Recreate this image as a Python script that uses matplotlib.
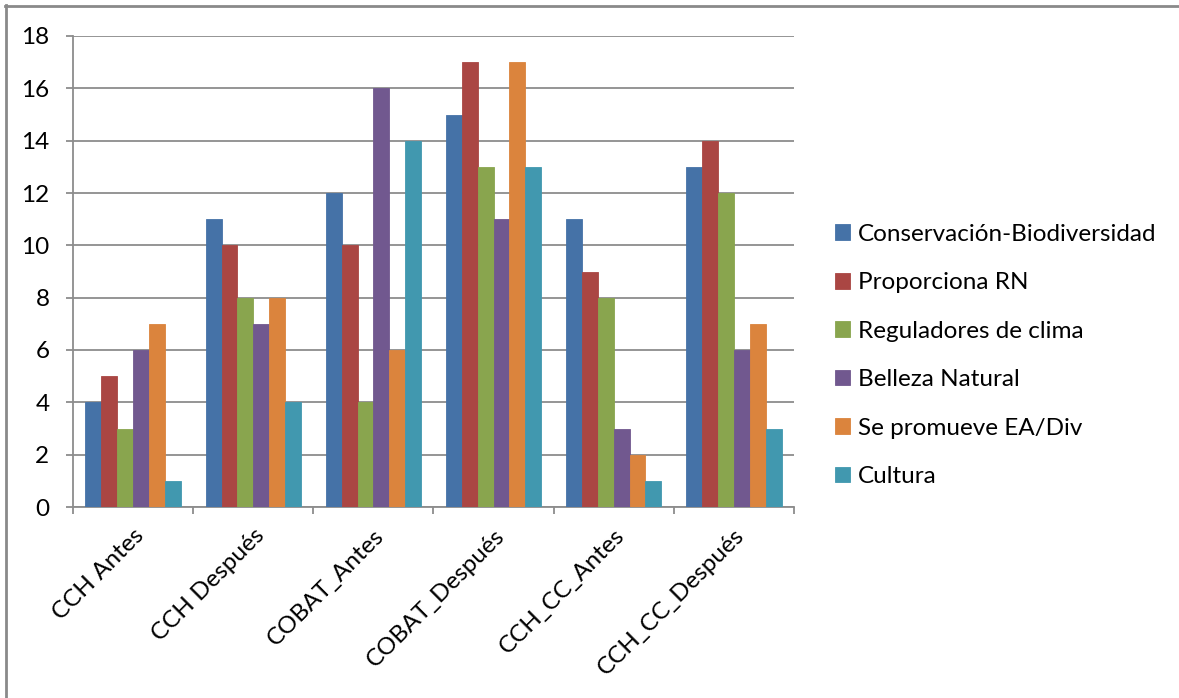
import matplotlib
matplotlib.use("Agg")
import matplotlib.pyplot as plt
from matplotlib.lines import Line2D
import numpy as np

categories = ["CCH Antes", "CCH Después", "COBAT_Antes", "COBAT_Después",
              "CCH_CC_Antes", "CCH_CC_Después"]
series_names = ["Conservación-Biodiversidad", "Proporciona RN", "Reguladores de clima",
                "Belleza Natural", "Se promueve EA/Div", "Cultura"]
conservacion = [4, 11, 12, 15, 11, 13]
proporciona = [5, 10, 10, 17, 9, 14]
reguladores = [3, 8, 4, 13, 8, 12]
belleza = [6, 7, 16, 11, 3, 6]
promueve = [7, 8, 6, 17, 2, 7]
cultura = [1, 4, 14, 13, 1, 3]
series_values = [conservacion, proporciona, reguladores, belleza, promueve, cultura]
colors = ["#4572A7", "#AA4643", "#89A54E", "#71588F", "#DB843D", "#4198AF"]
y_ticks = [0, 2, 4, 6, 8, 10, 12, 14, 16, 18]

plt.rcParams["font.family"] = ["Lato", "DejaVu Sans"]
FS = 17.5

fig = plt.figure(figsize=(11.79, 6.98), dpi=100)
ax = fig.add_axes([73 / 1179, 1 - 507 / 698, (794 - 73) / 1179, (507 - 36) / 698])

n = len(series_names)
x = np.arange(len(categories))
bar_w = 0.132
for i, (name, vals, c) in enumerate(zip(series_names, series_values, colors)):
    offs = (i - (n - 1) / 2) * bar_w
    ax.bar(x + offs, vals, width=bar_w, color=c, label=name,
           edgecolor=c, linewidth=0.6, zorder=3)

ax.set_xlim(-0.5, len(categories) - 0.5)
ax.set_ylim(0, 18)
ax.set_yticks(y_ticks)
ax.set_yticklabels([str(v) for v in y_ticks], fontsize=FS)
ax.yaxis.grid(True, color="#8c8c8c", linewidth=1.3, zorder=0)
ax.set_axisbelow(True)

# category boundaries carry the tick marks, labels sit at the centres
ax.set_xticks(np.arange(len(categories) + 1) - 0.5)
ax.set_xticklabels([])
ax.set_xticks(x, minor=True)
ax.set_xticklabels(categories, minor=True, rotation=45, ha="right", va="top",
                   rotation_mode="anchor", fontsize=FS)
ax.tick_params(axis="x", which="minor", length=0, pad=13)
ax.tick_params(axis="x", which="major", length=5, color="#8c8c8c", width=1.3)
ax.tick_params(axis="y", length=5, color="#8c8c8c", width=1.3, pad=12)

for s in ["top", "right"]:
    ax.spines[s].set_visible(False)
for s in ["left", "bottom"]:
    ax.spines[s].set_color("#8c8c8c")
    ax.spines[s].set_linewidth(1.3)

leg = fig.legend(loc="upper left", bbox_to_anchor=(825 / 1179, 1 - 214 / 698),
                 frameon=False, fontsize=FS, handlelength=0.62, handleheight=0.62,
                 handletextpad=0.35, labelspacing=1.13, borderaxespad=0)

# outer frame along the top and left edges
fig.add_artist(Line2D([5 / 1179, 1], [1 - 5.5 / 698, 1 - 5.5 / 698],
                      transform=fig.transFigure, color="#8a8a8a", linewidth=2))
fig.add_artist(Line2D([5.5 / 1179, 5.5 / 1179], [0, 1 - 5 / 698],
                      transform=fig.transFigure, color="#8a8a8a", linewidth=2))

fig.savefig("out.png", dpi=100)
